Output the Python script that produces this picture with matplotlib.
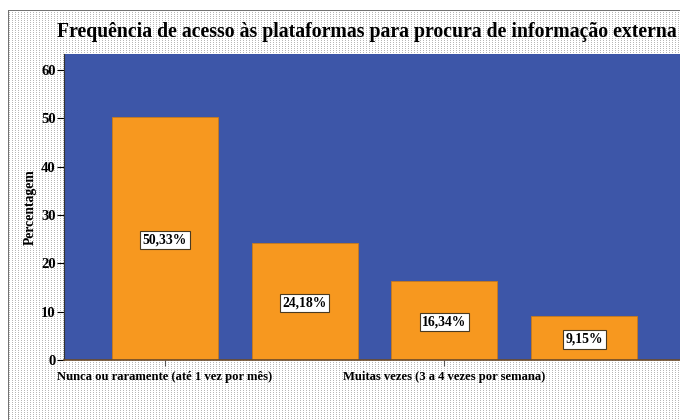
import matplotlib
matplotlib.use("Agg")
import matplotlib.pyplot as plt
import numpy as np

categorias = ["Nunca ou raramente (até 1 vez por mês)", "", "Muitas vezes (3 a 4 vezes por semana)", ""]
percentagens = [50.33, 24.18, 16.34, 9.15]
rotulos = ["50,33%", "24,18%", "16,34%", "9,15%"]
titulo = "Frequência de acesso às plataformas para procura de informação externa"

plt.rcParams["font.family"] = ["Liberation Serif", "DejaVu Serif"]
plt.rcParams["font.weight"] = "bold"

fig = plt.figure(figsize=(6.8, 4.2), dpi=100)

# fundo pontilhado estilo SPSS
h, w = 420, 680
fundo = np.ones((h, w, 3))
dots = np.zeros((h, w), dtype=bool)
dots[::2, ::3] = True
fundo[dots] = 0.72
fundo[:10, :] = 1.0
fundo[:, :8] = 1.0
fundo[10, 8:] = 0.45
fundo[10:, 8] = 0.45
fig.figimage(fundo[::-1], xo=0, yo=0, origin="lower", zorder=0)

ax = fig.add_axes([64 / 680, 1 - 360 / 420, (685 - 64) / 680, (360 - 54) / 420])
ax.set_zorder(2)
ax.set_facecolor("#3d56a8")

x = np.arange(len(percentagens))
ax.bar(x, percentagens, width=0.757, color="#f7981f", edgecolor="#c87a1a", linewidth=0.6, zorder=2)
for xi, v, r in zip(x, percentagens, rotulos):
    ax.text(xi, v / 2 - 0.3, r, ha="center", va="center", fontsize=9.8, fontweight="bold", color="black", zorder=3,
            bbox=dict(boxstyle="square,pad=0.2", facecolor="white", edgecolor="#4a3a20", linewidth=0.8))

ax.set_xlim(-0.72, 3.72)
ax.set_ylim(0, 63.3)
ax.set_yticks([0, 10, 20, 30, 40, 50, 60])
ax.set_xticks([0, 2])
ax.set_xticklabels([categorias[0], categorias[2]])
ax.tick_params(axis="y", direction="out", length=5, width=0.8, labelsize=10.5, pad=1)
ax.tick_params(axis="x", direction="out", length=4, width=0.8, labelsize=9.1, pad=4, color="#555555")
for lab in ax.get_xticklabels() + ax.get_yticklabels():
    lab.set_fontweight("bold")

for s in ["top", "right"]:
    ax.spines[s].set_visible(False)
ax.spines["left"].set_color("#333333")
ax.spines["bottom"].set_color("#6b4a2a")
ax.spines["bottom"].set_linewidth(1.2)

ax.set_ylabel("Percentagem", fontsize=9.8, fontweight="bold", labelpad=3)

fig.text(57 / 680, 1 - 32 / 420, titulo, ha="left", va="center", fontsize=14.2, fontweight="bold", zorder=3)

fig.savefig("out.png", dpi=100)
